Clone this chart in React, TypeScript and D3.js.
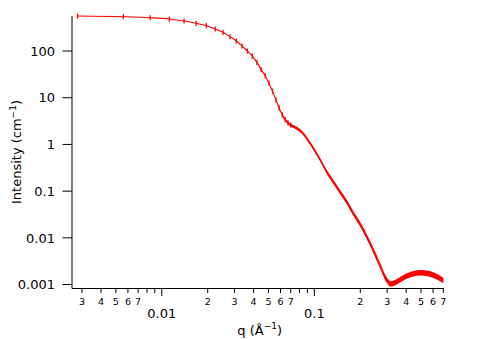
import React from 'react';
import * as d3 from 'd3';

// ---- data ----
const qValues = [
  0.0028, 0.0056, 0.0084, 0.0112, 0.014, 0.0168, 0.0196, 0.0224, 0.0252, 0.028,
  0.0308, 0.0336, 0.0364, 0.0392, 0.042, 0.0448, 0.0476, 0.0504, 0.0532, 0.056,
  0.0588, 0.0616, 0.0644, 0.0672, 0.07, 0.0756, 0.084, 0.0896, 0.098, 0.1092,
  0.1204, 0.1316, 0.1484, 0.1624, 0.1792, 0.1988, 0.2324, 0.2688, 0.2968, 0.3164,
  0.3472, 0.4032, 0.4928, 0.5712, 0.6832, 0.7,
];
const intensity = [
  561, 542, 516, 484, 439, 392, 348, 296, 251, 202,
  164, 128, 100, 78, 57, 40, 29.5, 20.5, 13.8, 9.0,
  6.0, 4.3, 3.4, 2.9, 2.58, 2.28, 1.75, 1.32, 0.85, 0.47,
  0.26, 0.168, 0.093, 0.06, 0.034, 0.0199, 0.0075, 0.0026, 0.00128, 0.00103,
  0.00115, 0.00152, 0.00179, 0.00169, 0.00128, 0.00121,
];

const yTickValues = [0.001, 0.01, 0.1, 1, 10, 100];
const yTickLabels = ['0.001', '0.01', '0.1', '1', '10', '100'];
const xMajorTicks = [0.01, 0.1];
const xMajorLabels = ['0.01', '0.1'];
const xMinorTicks = [
  0.003, 0.004, 0.005, 0.006, 0.007, 0.008, 0.009,
  0.02, 0.03, 0.04, 0.05, 0.06, 0.07, 0.08, 0.09,
  0.2, 0.3, 0.4, 0.5, 0.6, 0.7,
];
const xMinorLabels = [
  '3', '4', '5', '6', '7', '', '',
  '2', '3', '4', '5', '6', '7', '', '',
  '2', '3', '4', '5', '6', '7',
];

const W = 484;
const H = 339;
const LEFT = 72;
const RIGHT = 443.3;
const TOP = 16;
const BOTTOM = 288;
const RED = '#ff0000';
const FONT = 'DejaVu Sans, Verdana, sans-serif';
const DENSE_FROM = 0.0616; // where the markers overlap into a band

export default function App() {
  const x = d3.scaleLog().domain([0.00258, 0.7]).range([LEFT, RIGHT]);
  const y = d3.scaleLog().domain([0.000843, 562]).range([BOTTOM, TOP]);

  const pts: [number, number][] = qValues.map((q, i) => [q, intensity[i]]);
  const line = d3
    .line<[number, number]>()
    .x((d) => x(d[0]))
    .y((d) => y(d[1]))
    .curve(d3.curveMonotoneX);
  const dense = pts.filter((d) => d[0] >= DENSE_FROM);
  // half-height of the overlapping markers grows as points get denser
  const halfH = d3.scaleLog().domain([0.07, 0.28]).range([1.4, 2.8]).clamp(true);
  const band = d3
    .area<[number, number]>()
    .x((d) => x(d[0]))
    .y0((d) => y(d[1]) + halfH(d[0]))
    .y1((d) => y(d[1]) - halfH(d[0]))
    .curve(d3.curveMonotoneX);
  const sparse = pts.filter((d) => d[0] < DENSE_FROM + 0.01);

  return (
    <svg
      width={W}
      height={H}
      style={{ position: 'absolute', left: 0, top: 0, background: '#fff' }}
      fontFamily={FONT}
    >
      <rect x={0} y={0} width={W} height={H} fill="#fff" />
      {/* curve */}
      <path d={band(dense) || ''} fill={RED} stroke="none" />
      <path d={line(pts) || ''} fill="none" stroke={RED} strokeWidth={1.1} />
      {sparse.map((d, i) => (
        <line
          key={i}
          x1={x(d[0])}
          x2={x(d[0])}
          y1={y(d[1]) - 2.6}
          y2={y(d[1]) + 2.6}
          stroke={RED}
          strokeWidth={1.3}
        />
      ))}

      {/* left axis */}
      <line x1={LEFT} x2={LEFT} y1={TOP} y2={BOTTOM + 0.5} stroke="#000" strokeWidth={1} />
      {yTickValues.map((v, i) => (
        <g key={v}>
          <line x1={LEFT - 9.5} x2={LEFT} y1={y(v)} y2={y(v)} stroke="#000" strokeWidth={1} />
          <text
            x={LEFT - 17}
            y={y(v)}
            dy="0.36em"
            textAnchor="end"
            fontSize={13}
            fill="#000"
          >
            {yTickLabels[i]}
          </text>
        </g>
      ))}
      <text
        transform={`translate(20.5,${(TOP + BOTTOM) / 2}) rotate(-90)`}
        textAnchor="middle"
        fontSize={13}
        fill="#000"
      >
        Intensity (cm
        <tspan fontSize={9} dy={-5}>−1</tspan>
        <tspan dy={5}>)</tspan>
      </text>

      {/* bottom axis */}
      <line x1={LEFT} x2={RIGHT} y1={BOTTOM + 0.5} y2={BOTTOM + 0.5} stroke="#000" strokeWidth={1} />
      {xMinorTicks.map((v, i) => (
        <g key={'m' + i}>
          <line x1={x(v)} x2={x(v)} y1={BOTTOM} y2={BOTTOM + 5} stroke="#000" strokeWidth={1} />
          {xMinorLabels[i] && (
            <text x={x(v)} y={BOTTOM + 17} textAnchor="middle" fontSize={9.5} fill="#000">
              {xMinorLabels[i]}
            </text>
          )}
        </g>
      ))}
      {xMajorTicks.map((v, i) => (
        <g key={'M' + i}>
          <line x1={x(v)} x2={x(v)} y1={BOTTOM} y2={BOTTOM + 8} stroke="#000" strokeWidth={1} />
          <text x={x(v)} y={BOTTOM + 30} textAnchor="middle" fontSize={13} fill="#000">
            {xMajorLabels[i]}
          </text>
        </g>
      ))}
      <text x={(LEFT + RIGHT) / 2 + 2} y={335} textAnchor="middle" fontSize={13} fill="#000">
        q (Å
        <tspan fontSize={9} dy={-6}>−1</tspan>
        <tspan dy={6}>)</tspan>
      </text>
    </svg>
  );
}
